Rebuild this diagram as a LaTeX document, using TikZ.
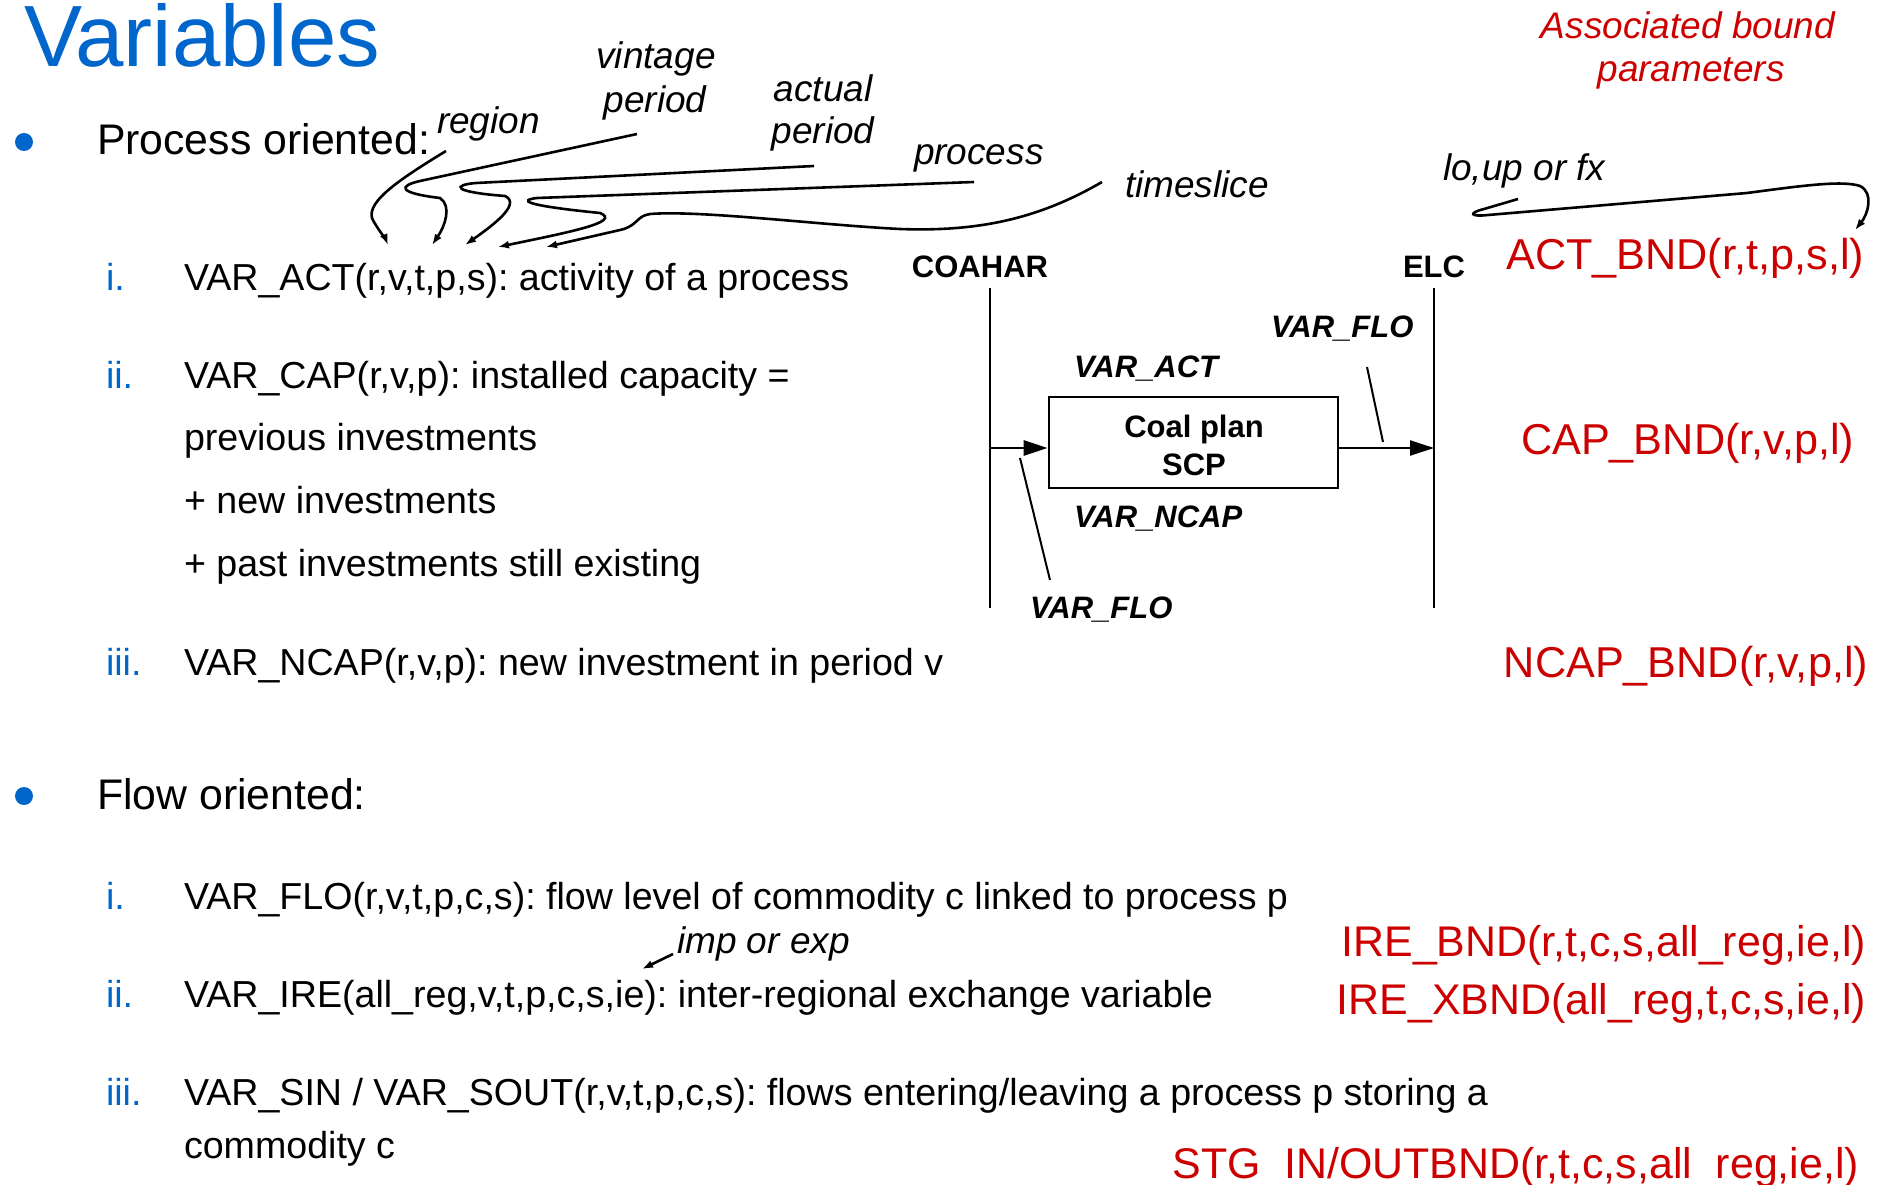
\documentclass[tikz,border=0pt]{standalone}
\usepackage{fontspec}
\setmainfont{Liberation Sans}
\usetikzlibrary{arrows.meta}
\definecolor{titleblue}{HTML}{0066CC}
\definecolor{bndred}{HTML}{CC0000}
\newcommand{\cutbar}{\raisebox{-14pt}{\_}}
\begin{document}
\frenchspacing
\begin{tikzpicture}[x=1pt,y=-1pt,
  base/.style={inner sep=0pt,outer sep=0pt},
  bodytxt/.style={base,anchor=base west,font=\fontsize{37.6}{44}\selectfont},
  headtxt/.style={base,anchor=base west,font=\fontsize{42.8}{50}\selectfont},
  numtxt/.style={bodytxt,text=titleblue},
  bndtxt/.style={base,anchor=base east,text=bndred,font=\fontsize{43.2}{50}\selectfont},
  bndsmall/.style={bndtxt,font=\fontsize{42.9}{50}\selectfont},
  annot/.style={base,anchor=base west,font=\fontsize{37}{44}\selectfont\itshape},
  annotc/.style={base,anchor=base,font=\fontsize{37}{44}\selectfont\itshape},
  comlabel/.style={base,anchor=base,font=\fontsize{31}{37}\selectfont\bfseries},
  varlabel/.style={base,anchor=base west,font=\fontsize{31}{37}\selectfont\bfseries\itshape},
  pointer/.style={line width=2.6pt,-{Latex[length=11pt,width=8pt]}},
  leader/.style={line width=2pt},
  busline/.style={line width=2.6pt},
  flowarrow/.style={line width=2.6pt,-{Triangle[length=24pt,width=15pt]}},
  bullet/.style={circle,fill=titleblue,inner sep=0pt,minimum size=18pt}
]
\useasboundingbox (0,0) rectangle (1884,1185);
\clip (0,0) rectangle (1884,1185);

% ---------- title and headings ----------
\node[base,anchor=base west,text=titleblue,font=\fontsize{87}{100}\selectfont] (title) at (24,67) {Variables};

\node[bullet] (b1) at (24,142) {};
\node[headtxt] (proc) at (97,155) {Process oriented:};

\node[numtxt] (n1) at (106,290) {i.};
\node[bodytxt] (act) at (184,290) {VAR\_ACT(r,v,t,p,s): activity of a process};
\node[numtxt] (n2) at (106,388) {ii.};
\node[bodytxt] (cap) at (184,388) {VAR\_CAP(r,v,p): installed capacity =};
\node[bodytxt] (cap2) at (184,450) {previous investments};
\node[bodytxt] (cap3) at (184,513) {+ new investments};
\node[bodytxt] (cap4) at (184,576) {+ past investments still existing};
\node[numtxt] (n3) at (106,675) {iii.};
\node[bodytxt] (ncap) at (184,675) {VAR\_NCAP(r,v,p): new investment in period v};

\node[bullet] (b2) at (24,796) {};
\node[headtxt] (flow) at (97,809) {Flow oriented:};

\node[numtxt] (m1) at (106,909) {i.};
\node[bodytxt] (flo) at (184,909) {VAR\_FLO(r,v,t,p,c,s): flow level of commodity c linked to process p};
\node[numtxt] (m2) at (106,1007) {ii.};
\node[bodytxt] (ire) at (184,1007) {VAR\_IRE(all\_reg,v,t,p,c,s,ie): inter-regional exchange variable};
\node[numtxt] (m3) at (106,1105) {iii.};
\node[bodytxt] (stg) at (184,1105) {VAR\_SIN / VAR\_SOUT(r,v,t,p,c,s): flows entering/leaving a process p storing a};
\node[bodytxt] (stg2) at (184,1158) {commodity c};

% ---------- bound parameters ----------
\node[annotc,text=bndred] (assoc1) at (1688,39) {Associated bound};
\node[annotc,text=bndred] (assoc2) at (1691,82) {parameters};
\node[bndtxt] (actbnd) at (1864,269) {ACT\_BND(r,t,p,s,l)};
\node[bndtxt] (capbnd) at (1854,454) {CAP\_BND(r,v,p,l)};
\node[bndtxt] (ncapbnd) at (1868,677) {NCAP\_BND(r,v,p,l)};
\node[bndsmall] (irebnd) at (1866,956) {IRE\_BND(r,t,c,s,all\_reg,ie,l)};
\node[bndsmall] (irexbnd) at (1866,1014) {IRE\_XBND(all\_reg,t,c,s,ie,l)};
\node[bndsmall] (stgbnd) at (1859,1178) {STG\cutbar IN/OUTBND(r,t,c,s,all\cutbar reg,ie,l)};

% ---------- index annotations ----------
\node[annot] (lreg) at (437,134) {region};
\node[annotc] (lvin) at (656,69) {vintage};
\node[annotc] (lvin2) at (655,113) {period};
\node[annotc] (lact) at (823,102) {actual};
\node[annotc] (lact2) at (823,144) {period};
\node[annot] (lproc) at (914,165) {process};
\node[annot] (lts) at (1125,197) {timeslice};
\node[annot] (llim) at (1443,181) {lo,up or fx};
\node[annot] (lie) at (677,953) {imp or exp};

\coordinate (sreg) at (446,151);
\coordinate (svin) at (637,134);
\coordinate (sact) at (814,166);
\coordinate (sproc) at (974,182);
\coordinate (sts) at (1102,182);
\coordinate (slim) at (1518,199);
\coordinate (sie) at (673,954);

\coordinate (treg) at (388,245);
\coordinate (tvin) at (432,245);
\coordinate (tact) at (465,245);
\coordinate (tproc) at (498,247);
\coordinate (tts) at (546,247);
\coordinate (tlim) at (1855,230);
\coordinate (tie) at (642,969);

\draw[pointer] (sreg) .. controls (395,182) and (362,205) .. (374,222)
  .. controls (380,232) and (386,240) .. (treg);
\draw[pointer] (svin) -- (420,181) .. controls (398,186) and (398,193) .. (440,198)
  .. controls (452,206) and (445,226) .. (tvin);
\draw[pointer] (sact) -- (476,183) .. controls (452,185) and (452,192) .. (505,196)
  .. controls (522,204) and (492,226) .. (tact);
\draw[pointer] (sproc) -- (537,198) .. controls (520,200) and (520,205) .. (600,213)
  .. controls (622,222) and (570,232) .. (tproc);
\draw[pointer] (sts) .. controls (1040,218) and (980,232) .. (900,229)
  .. controls (820,225) and (700,210) .. (650,214)
  .. controls (636,216) and (638,226) .. (620,230) -- (tts);
\draw[pointer] (slim) -- (1484,209) .. controls (1468,213) and (1470,217) .. (1488,215)
  -- (1747,193) .. controls (1800,186) and (1842,180) .. (1860,186)
  .. controls (1874,193) and (1868,214) .. (tlim);
\draw[pointer] (sie) -- (tie);

% ---------- process diagram ----------
\node[comlabel] (coa) at (980,277) {COAHAR};
\node[comlabel] (elc) at (1434,277) {ELC};
\coordinate (coatop) at (990,288);
\coordinate (coabot) at (990,608);
\coordinate (elctop) at (1434,288);
\coordinate (elcbot) at (1434,608);
\draw[busline] (coatop) -- (coabot);
\draw[busline] (elctop) -- (elcbot);

\node[draw,line width=2.6pt,minimum width=289pt,minimum height=91pt,inner sep=0pt] (scp) at (1193.5,442.5) {};
\node[comlabel] (scp1) at (1194,437) {Coal plan};
\node[comlabel] (scp2) at (1194,475) {SCP};

\coordinate (inflow) at (990,448);
\coordinate (outflow) at (1338,448);
\draw[flowarrow] (inflow) -- (inflow -| scp.west);
\draw[flowarrow] (outflow) -- (outflow -| elctop);

\node[varlabel] (vact) at (1074,377) {VAR\_ACT};
\node[varlabel] (vncap) at (1074,527) {VAR\_NCAP};
\node[varlabel] (vfloout) at (1271,337) {VAR\_FLO};
\node[varlabel] (vfloin) at (1030,618) {VAR\_FLO};

\coordinate (lout1) at (1367,367);
\coordinate (lout2) at (1383,442);
\coordinate (lin1) at (1020,458);
\coordinate (lin2) at (1050,580);
\draw[leader] (lout1) -- (lout2);
\draw[leader] (lin1) -- (lin2);
\end{tikzpicture}
\end{document}
